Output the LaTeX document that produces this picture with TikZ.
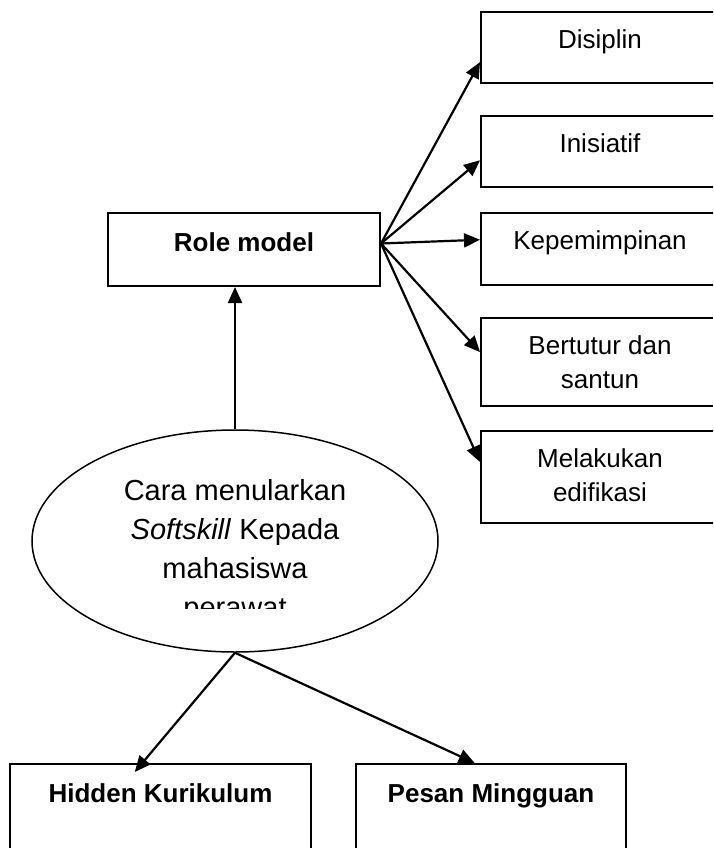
\documentclass[tikz,border=0pt]{standalone}
\usepackage{fontspec}
\setmainfont{Liberation Sans}
\usetikzlibrary{arrows.meta,positioning,shapes.geometric,calc}
\tikzset{
    block/.style={
        draw,
        rectangle,
        line width=2pt,
        minimum width=238pt,
        inner sep=0pt
    },
    oval/.style={
        draw,
        ellipse,
        line width=1.5pt,
        minimum width=406pt,
        minimum height=222pt,
        inner sep=0pt
    },
    intext/.style={
        anchor=north,
        yshift=-18pt,
        inner sep=0pt,
        align=center,
        font=\fontsize{26}{34}\selectfont
    },
    headtext/.style={
        anchor=north,
        yshift=-20pt,
        inner sep=0pt,
        align=center,
        font=\fontsize{26}{34}\selectfont\bfseries
    },
    ovaltext/.style={
        anchor=north,
        inner sep=0pt,
        align=center,
        font=\fontsize{29}{39}\selectfont
    },
    link/.style={
        line width=2.2pt,
        -{Triangle[length=16pt,width=14pt]}
    },
}

\begin{document}
\begin{tikzpicture}[x=1pt, y=-1pt, node distance=31pt]
    \clip (0,0) rectangle (713,848);

    \node[block, minimum width=272pt, minimum height=73pt, label={[headtext]north:Role model}] (role) at (244,249.5) {};
    \node[oval] (cara) at (235,541) {};

    % right column
    \node[block, minimum height=71pt, label={[intext]north:Disiplin}] (disiplin) at (600,47.5) {};
    \node[block, minimum height=71pt, below=of disiplin, label={[intext]north:Inisiatif}] (inisiatif) {};
    \node[block, minimum height=72pt, below=24pt of inisiatif, label={[intext]north:Kepemimpinan}] (kepemimpinan) {};
    \node[block, minimum height=88pt, below=of kepemimpinan, label={[intext]north:Bertutur dan\\santun}] (bertutur) {};
    \node[block, minimum height=92pt, below=23pt of bertutur, label={[intext]north:Melakukan\\edifikasi}] (melakukan) {};

    % bottom row
    \node[block, minimum width=301pt, minimum height=110pt, label={[headtext]north:Hidden Kurikulum}] (hidden) at (160.5,819) {};
    \node[block, minimum width=270pt, minimum height=110pt, right=43pt of hidden, label={[headtext]north:Pesan Mingguan}] (pesan) {};

    \begin{scope}
        \clip (0,0) rectangle (713,608);
        \node[ovaltext] (caratxt) at (235,479) {Cara menularkan\\\textit{Softskill} Kepada\\mahasiswa\\perawat};
    \end{scope}

    \coordinate (hub) at ($(role.south east)!0.58!(role.north east)$);

    \draw[link] (hub) -- ($(disiplin.south west)!0.3!(disiplin.north west)$);
    \draw[link] (hub) -- ($(inisiatif.south west)!0.38!(inisiatif.north west)$);
    \draw[link] (hub) -- ($(kepemimpinan.south west)!0.625!(kepemimpinan.north west)$);
    \draw[link] (hub) -- ($(bertutur.south west)!0.61!(bertutur.north west)$);
    \draw[link] (hub) -- ($(melakukan.south west)!0.66!(melakukan.north west)$);

    \draw[link] (cara.north) -- (cara.north |- role.south);
    \draw[link] (cara.south) -- ($(hidden.north west)!0.415!(hidden.north east)+(0,9)$);
    \draw[link] (cara.south) -- ($(pesan.north west)!0.44!(pesan.north east)$);
\end{tikzpicture}
\end{document}
